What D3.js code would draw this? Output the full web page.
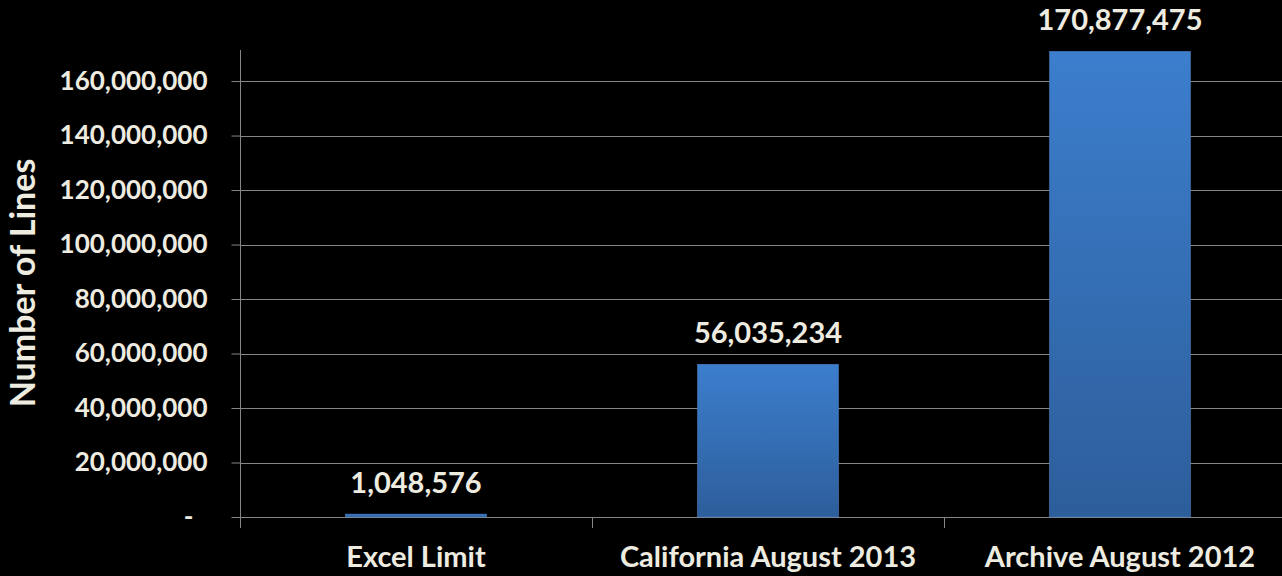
<!DOCTYPE html>
<html>
<head>
<meta charset="utf-8">
<script src="https://cdn.jsdelivr.net/npm/d3@7"></script>
<style>
  html, body { margin: 0; padding: 0; background: #000; }
  svg { display: block; }
  text { font-family: Lato, "Open Sans", sans-serif; font-weight: 700; fill: #eeece1; }
</style>
</head>
<body>
<svg id="chart" width="1282" height="576"></svg>
<script>
// Row counts per data set
const categories = ["Excel Limit", "California August 2013", "Archive August 2012"];
const lineCounts = [1048576, 56035234, 170877475];
const yTickValues = [0, 20000000, 40000000, 60000000, 80000000, 100000000, 120000000, 140000000, 160000000];
const yTickLabels = ["-", "20,000,000", "40,000,000", "60,000,000", "80,000,000", "100,000,000", "120,000,000", "140,000,000", "160,000,000"];
const yAxisTitle = "Number of Lines";

const svg = d3.select("#chart");
const plot = { left: 240, right: 1296, top: 50, bottom: 517 };
const gridColor = "#868686";

const x = d3.scaleBand()
  .domain(categories)
  .range([plot.left, plot.right])
  .paddingInner(0.6)
  .paddingOuter(0.3);

const y = d3.scaleLinear()
  .domain([0, 171400000])
  .range([plot.bottom, plot.top]);

// Bar fill: vertical blue gradient
const defs = svg.append("defs");
const grad = defs.append("linearGradient")
  .attr("id", "barFill")
  .attr("x1", 0).attr("y1", 0).attr("x2", 0).attr("y2", 1);
grad.append("stop").attr("offset", "0%").attr("stop-color", "#3c7ecd");
grad.append("stop").attr("offset", "100%").attr("stop-color", "#2d5e9b");

// Horizontal gridlines
svg.append("g")
  .selectAll("line")
  .data(yTickValues.slice(1))
  .join("line")
  .attr("x1", plot.left).attr("x2", 1282)
  .attr("y1", d => Math.round(y(d)) + 0.5)
  .attr("y2", d => Math.round(y(d)) + 0.5)
  .attr("stroke", gridColor)
  .attr("stroke-width", 1);

// Y axis
const yAxis = d3.axisLeft(y)
  .tickValues(yTickValues)
  .tickFormat((d, i) => yTickLabels[i])
  .tickSize(9)
  .tickPadding(24);

const gy = svg.append("g")
  .attr("transform", `translate(${plot.left + 0.5},0)`)
  .call(yAxis);
gy.select(".domain").remove();
gy.selectAll(".tick line").attr("stroke", gridColor);
gy.selectAll(".tick text")
  .attr("fill", "#eeece1")
  .style("font-size", "26px")
  .style("font-family", "Lato, 'Open Sans', sans-serif")
  .style("font-weight", 700)
  .attr("dx", d => d === 0 ? -14 : 0);
gy.append("line")
  .attr("x1", 0).attr("x2", 0)
  .attr("y1", plot.top).attr("y2", plot.bottom + 11)
  .attr("stroke", gridColor);

// Category axis baseline and separators between categories
svg.append("line")
  .attr("x1", plot.left).attr("x2", 1282)
  .attr("y1", plot.bottom + 0.5).attr("y2", plot.bottom + 0.5)
  .attr("stroke", gridColor);

const step = x.step();
svg.append("g")
  .selectAll("line")
  .data(categories.slice(1))
  .join("line")
  .attr("x1", c => Math.round(x(c) + x.bandwidth() / 2 - step / 2) + 0.5)
  .attr("x2", c => Math.round(x(c) + x.bandwidth() / 2 - step / 2) + 0.5)
  .attr("y1", plot.bottom).attr("y2", plot.bottom + 11)
  .attr("stroke", gridColor);

// Bars
svg.append("g")
  .selectAll("rect")
  .data(categories)
  .join("rect")
  .attr("x", c => x(c))
  .attr("width", x.bandwidth())
  .attr("y", (c, i) => y(lineCounts[i]))
  .attr("height", (c, i) => plot.bottom - y(lineCounts[i]))
  .attr("fill", "url(#barFill)")
  .attr("stroke", "#4a80c4")
  .attr("stroke-width", 0.6);

// Value labels
const fmt = d3.format(",");
svg.append("g")
  .selectAll("text")
  .data(categories)
  .join("text")
  .attr("x", c => x(c) + x.bandwidth() / 2)
  .attr("y", (c, i) => y(lineCounts[i]) - 21)
  .attr("text-anchor", "middle")
  .style("font-size", "29px")
  .text((c, i) => fmt(lineCounts[i]));

// Category labels
svg.append("g")
  .selectAll("text")
  .data(categories)
  .join("text")
  .attr("x", c => x(c) + x.bandwidth() / 2)
  .attr("y", 567)
  .attr("text-anchor", "middle")
  .style("font-size", "29px")
  .text(c => c);

// Y axis title
svg.append("text")
  .attr("transform", "translate(35,283) rotate(-90)")
  .attr("text-anchor", "middle")
  .style("font-size", "34px")
  .text(yAxisTitle);
</script>
</body>
</html>
